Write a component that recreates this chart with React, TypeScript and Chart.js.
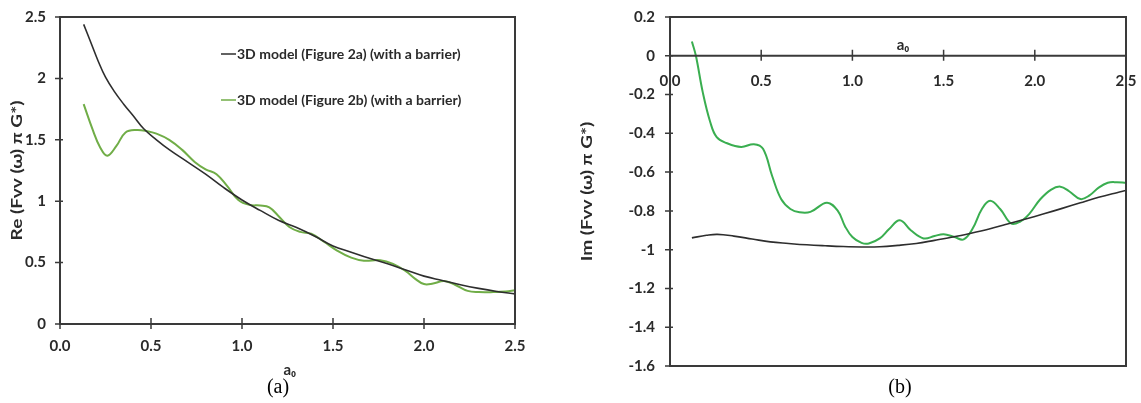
import React, { useEffect, useRef } from 'react';
import { Chart, registerables } from 'chart.js';

Chart.register(...registerables);

// ---------- data: left panel (a) Re ----------
const reBlackX = [0.13, 0.17, 0.21, 0.25, 0.3, 0.35, 0.4, 0.46, 0.53, 0.6, 0.7, 0.8, 0.9, 1.0, 1.1, 1.2, 1.3, 1.4, 1.5, 1.6, 1.7, 1.8, 1.9, 2.0, 2.1, 2.2, 2.3, 2.4, 2.5];
const reBlackY = [2.44, 2.29, 2.14, 2.01, 1.89, 1.79, 1.7, 1.59, 1.5, 1.42, 1.32, 1.22, 1.11, 1.01, 0.925, 0.845, 0.786, 0.715, 0.635, 0.585, 0.535, 0.49, 0.44, 0.39, 0.355, 0.32, 0.29, 0.265, 0.245];
const reGreenX = [0.13, 0.18, 0.22, 0.26, 0.31, 0.36, 0.42, 0.48, 0.53, 0.6, 0.67, 0.74, 0.8, 0.86, 0.92, 0.98, 1.04, 1.1, 1.15, 1.2, 1.26, 1.32, 1.38, 1.45, 1.52, 1.6, 1.67, 1.76, 1.83, 1.9, 1.95, 2.0, 2.05, 2.11, 2.17, 2.24, 2.3, 2.38, 2.45, 2.5];
const reGreenY = [1.79, 1.58, 1.44, 1.37, 1.45, 1.56, 1.58, 1.57, 1.55, 1.5, 1.42, 1.32, 1.26, 1.22, 1.12, 1.01, 0.97, 0.965, 0.95, 0.88, 0.79, 0.75, 0.735, 0.67, 0.6, 0.54, 0.515, 0.52, 0.49, 0.43, 0.37, 0.325, 0.33, 0.35, 0.32, 0.27, 0.26, 0.26, 0.265, 0.275];

// ---------- data: right panel (b) Im ----------
const imBlackX = [0.12, 0.2, 0.26, 0.35, 0.45, 0.55, 0.65, 0.75, 0.85, 0.95, 1.05, 1.15, 1.25, 1.35, 1.45, 1.55, 1.65, 1.75, 1.85, 1.95, 2.05, 2.15, 2.25, 2.35, 2.45, 2.5];
const imBlackY = [-0.939, -0.926, -0.921, -0.93, -0.945, -0.96, -0.968, -0.975, -0.98, -0.984, -0.986, -0.985, -0.978, -0.968, -0.952, -0.935, -0.915, -0.893, -0.868, -0.842, -0.815, -0.787, -0.758, -0.73, -0.706, -0.695];
const imGreenX = [0.12, 0.142, 0.18, 0.22, 0.256, 0.31, 0.39, 0.46, 0.51, 0.56, 0.61, 0.66, 0.71, 0.77, 0.86, 0.92, 0.96, 1.0, 1.05, 1.09, 1.15, 1.2, 1.26, 1.32, 1.39, 1.45, 1.5, 1.56, 1.61, 1.66, 1.71, 1.755, 1.81, 1.87, 1.92, 1.97, 2.03, 2.09, 2.14, 2.19, 2.25, 2.3, 2.35, 2.4, 2.45, 2.5];
const imGreenY = [0.074, 0, -0.19, -0.34, -0.42, -0.45, -0.47, -0.456, -0.48, -0.62, -0.74, -0.79, -0.807, -0.805, -0.758, -0.8, -0.88, -0.935, -0.965, -0.968, -0.942, -0.895, -0.848, -0.9, -0.942, -0.93, -0.92, -0.935, -0.947, -0.89, -0.79, -0.748, -0.79, -0.865, -0.855, -0.815, -0.74, -0.69, -0.675, -0.7, -0.739, -0.72, -0.68, -0.655, -0.652, -0.655];

// ---------- labels ----------
const seriesLabels = ['3D model (Figure 2a) (with a barrier)', '3D model (Figure 2b) (with a barrier)'];
const reTitle = 'Re (Fvv (ω) π G*)';
const imTitle = 'Im (Fvv (ω) π G*)';
const xTitle = 'a₀';
const captions = ['(a)', '(b)'];
const xTickStep = 0.5;
const reTickStep = 0.5;
const imTickStep = 0.2;

const AXIS = '#3a3a3a';
const BLACK = '#2e2e2e';
const GREEN_A = '#70AD47';
const GREEN_B = '#3AAE50';
const TEXT = '#2a2a2a';
const FONT = "Lato, 'Noto Sans', sans-serif";

const pts = (xs: number[], ys: number[]) => xs.map((x, i) => ({ x, y: ys[i] }));
const fmtY = (v: number) => String(Number(Number(v).toFixed(1)));
const fmtX = (v: number) => Number(v).toFixed(1);
const noPad = (s: any) => { s.paddingLeft = 0; s.paddingRight = 0; s.paddingTop = 0; s.paddingBottom = 0; };

function framePlugin(cfg: { xAxisAt?: number; caption: string; captionX: number; titleFrac: number; titleY: number; legend: boolean; yTitle: string; yTitleX: number }) {
  return {
    id: 'frame',
    afterDraw(chart: any) {
      const { ctx, chartArea: a, scales } = chart;
      const xs = scales.x, ys = scales.y;
      ctx.save();
      ctx.strokeStyle = AXIS;
      ctx.lineWidth = 2;
      ctx.strokeRect(a.left, a.top, a.right - a.left, a.bottom - a.top);
      const xAxisY = cfg.xAxisAt !== undefined ? ys.getPixelForValue(cfg.xAxisAt) : a.bottom;
      ctx.beginPath();
      ctx.moveTo(a.left, xAxisY);
      ctx.lineTo(a.right, xAxisY);
      ctx.stroke();
      ctx.lineWidth = 1.5;
      ctx.beginPath();
      xs.ticks.forEach((t: any) => {
        const px = xs.getPixelForValue(t.value);
        ctx.moveTo(px, xAxisY - 6);
        ctx.lineTo(px, xAxisY + 5);
      });
      ys.ticks.forEach((t: any) => {
        const py = ys.getPixelForValue(t.value);
        ctx.moveTo(a.left - 5, py);
        ctx.lineTo(a.left + 3, py);
      });
      ctx.stroke();
      // y title (stretched along its length like the reference)
      ctx.save();
      ctx.fillStyle = TEXT;
      ctx.font = `bold 15px ${FONT}`;
      ctx.textAlign = 'center';
      ctx.textBaseline = 'middle';
      ctx.translate(cfg.yTitleX, (a.top + a.bottom) / 2);
      ctx.rotate(-Math.PI / 2);
      ctx.scale(1.27, 1);
      ctx.fillText(cfg.yTitle, 0, 0);
      ctx.restore();
      // x title
      ctx.fillStyle = TEXT;
      ctx.font = `bold 15px ${FONT}`;
      ctx.textAlign = 'center';
      ctx.textBaseline = 'middle';
      ctx.fillText(xTitle, a.left + (a.right - a.left) * cfg.titleFrac, cfg.titleY);
      // caption
      ctx.fillStyle = '#000';
      ctx.font = "20px 'Liberation Serif', 'Times New Roman', serif";
      ctx.fillText(cfg.caption, cfg.captionX, 388);
      // legend
      if (cfg.legend) {
        chart.data.datasets.forEach((ds: any, i: number) => {
          const y = 54 + i * 46;
          ctx.strokeStyle = ds.borderColor;
          ctx.lineWidth = 1.5;
          ctx.beginPath();
          ctx.moveTo(221, y);
          ctx.lineTo(236, y);
          ctx.stroke();
          ctx.fillStyle = TEXT;
          ctx.font = `bold 14px ${FONT}`;
          ctx.textAlign = 'left';
          ctx.fillText(ds.label, 237, y);
        });
      }
      ctx.restore();
    },
  };
}

const tickFont = { family: FONT, size: 15, weight: 'bold' };

function LeftChart() {
  const ref = useRef<HTMLCanvasElement>(null);
  useEffect(() => {
    const chart = new Chart(ref.current!, {
      type: 'line',
      data: {
        datasets: [
          { label: seriesLabels[0], data: pts(reBlackX, reBlackY), borderColor: BLACK, borderWidth: 1.6, pointRadius: 0, tension: 0.4, fill: false },
          { label: seriesLabels[1], data: pts(reGreenX, reGreenY), borderColor: GREEN_A, borderWidth: 2, pointRadius: 0, tension: 0.4, fill: false },
        ],
      },
      options: {
        animation: false,
        responsive: false,
        layout: { padding: { top: 17, right: 45, left: 0, bottom: 0 } },
        plugins: { legend: { display: false }, tooltip: { enabled: false } },
        scales: {
          x: {
            type: 'linear', min: 0, max: 2.5,
            grid: { display: false, drawTicks: false },
            border: { display: false },
            ticks: { stepSize: xTickStep, padding: 13, color: TEXT, font: tickFont, callback: (v: any) => fmtX(v), maxRotation: 0 },
            afterFit: (s: any) => { s.height = 79; noPad(s); },
          },
          y: {
            type: 'linear', min: 0, max: 2.5,
            grid: { display: false, drawTicks: false },
            border: { display: false },
            ticks: { stepSize: reTickStep, padding: 14, color: TEXT, font: tickFont, callback: (v: any) => fmtY(v) },
            afterFit: (s: any) => { s.width = 60; noPad(s); },
          },
        },
      },
      plugins: [framePlugin({ caption: captions[0], captionX: 278, titleFrac: 0.505, titleY: 370, legend: true, yTitle: reTitle, yTitleX: 17 })],
    } as any);
    return () => chart.destroy();
  }, []);
  return <canvas ref={ref} width={560} height={403} />;
}

function RightChart() {
  const ref = useRef<HTMLCanvasElement>(null);
  useEffect(() => {
    const chart = new Chart(ref.current!, {
      type: 'line',
      data: {
        datasets: [
          { label: 'black', data: pts(imBlackX, imBlackY), borderColor: BLACK, borderWidth: 1.6, pointRadius: 0, tension: 0.4, fill: false },
          { label: 'green', data: pts(imGreenX, imGreenY), borderColor: GREEN_B, borderWidth: 2, pointRadius: 0, tension: 0.4, fill: false },
        ],
      },
      options: {
        animation: false,
        responsive: false,
        layout: { padding: { top: 17, right: 15, left: 0, bottom: 37 } },
        plugins: { legend: { display: false }, tooltip: { enabled: false } },
        scales: {
          x: {
            type: 'linear', min: 0, max: 2.5, position: { y: 0 },
            grid: { display: false, drawTicks: false },
            border: { display: false },
            ticks: { stepSize: xTickStep, padding: 16, color: TEXT, font: tickFont, callback: (v: any) => fmtX(v), maxRotation: 0 },
            afterFit: (s: any) => { noPad(s); },
          },
          y: {
            type: 'linear', min: -1.6, max: 0.2,
            grid: { display: false, drawTicks: false },
            border: { display: false },
            ticks: { stepSize: imTickStep, padding: 15, color: TEXT, font: tickFont, callback: (v: any) => fmtY(v) },
            afterFit: (s: any) => { s.width = 110; noPad(s); },
          },
        },
      },
      plugins: [framePlugin({ xAxisAt: 0, caption: captions[1], captionX: 340, titleFrac: 0.511, titleY: 45, legend: false, yTitle: imTitle, yTitleX: 27 })],
    } as any);
    return () => chart.destroy();
  }, []);
  return <canvas ref={ref} width={581} height={403} />;
}

export default function App() {
  return (
    <div style={{ position: 'fixed', left: 0, top: 0, width: 1141, height: 403, background: '#fff' }}>
      <div style={{ position: 'absolute', left: 0, top: 0, width: 560, height: 403 }}>
        <LeftChart />
      </div>
      <div style={{ position: 'absolute', left: 560, top: 0, width: 581, height: 403 }}>
        <RightChart />
      </div>
    </div>
  );
}
